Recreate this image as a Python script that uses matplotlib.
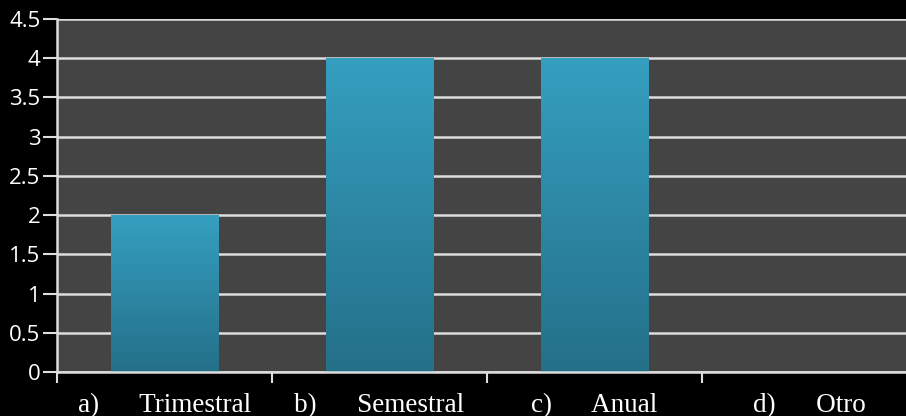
import matplotlib
matplotlib.use("Agg")
import matplotlib.pyplot as plt
import numpy as np
from matplotlib.ticker import FuncFormatter

categories = ["a)      Trimestral", "b)      Semestral", "c)      Anual", "d)      Otro"]
values = [2, 4, 4, 0]
yticks = [0, 0.5, 1, 1.5, 2, 2.5, 3, 3.5, 4, 4.5]

W, H = 906, 416
fig = plt.figure(figsize=(W/100, H/100), dpi=100, facecolor="black")
ax = fig.add_axes([57/W, (H-372)/H, 1-57/W, (372-19)/H])
ax.set_facecolor("#444444")

x = np.arange(len(categories))
bw = 0.5
top_c = np.array([0x35, 0x9f, 0xc0]) / 255
bot_c = np.array([0x24, 0x70, 0x89]) / 255
grad = np.linspace(0, 1, 256)[:, None]
img = bot_c[None, None, :] * (1 - grad[..., None]) + top_c[None, None, :] * grad[..., None]

ax.grid(axis="y", color="#dddddd", linewidth=1.8, zorder=0)
ax.set_axisbelow(True)

for xi, v in zip(x, values):
    if v > 0:
        ax.imshow(img, extent=(xi - bw/2, xi + bw/2, 0, v), origin="lower",
                  aspect="auto", zorder=2, interpolation="bilinear")
ax.set_xlim(-0.5, 3.5 - 11/215)
ax.set_ylim(0, 4.5)
ax.set_yticks(yticks)
ax.yaxis.set_major_formatter(FuncFormatter(lambda v, p: f"{v:g}"))

ax.set_xticks(np.arange(-0.5, 3.5, 1.0))
ax.set_xticklabels([])
ax.set_xticks(x, minor=True)
ax.set_xticklabels(categories, minor=True, fontfamily="Liberation Serif", fontsize=19.5, color="white")
ax.tick_params(axis="x", which="minor", length=0, pad=15)
ax.tick_params(axis="x", which="major", length=8, width=1.5, color="#dddddd", direction="out")
ax.tick_params(axis="y", length=10, width=1.5, color="#dddddd", pad=2, labelsize=16, labelcolor="white")
for lab in ax.get_yticklabels():
    lab.set_fontfamily("Open Sans")

for s in ["top", "right"]:
    ax.spines[s].set_visible(False)
for s in ["left", "bottom"]:
    ax.spines[s].set_color("#dddddd")
    ax.spines[s].set_linewidth(1.8)

fig.savefig("out.png", dpi=100, facecolor="black")
